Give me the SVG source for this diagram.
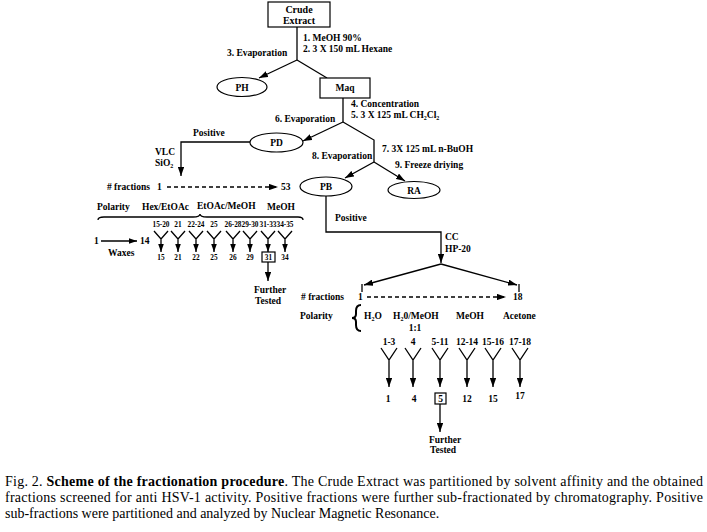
<svg xmlns="http://www.w3.org/2000/svg" xmlns:xlink="http://www.w3.org/1999/xlink" width="707" height="532" viewBox="0 0 707 532">
<style>
.t{font-family:"Liberation Serif","Times New Roman",serif;font-weight:bold;font-size:9.5px;fill:#000}
.s{font-size:7.3px}
.m{text-anchor:middle}
.c{font-family:"Liberation Serif","Times New Roman",serif;font-size:14px;fill:#000}
.b{font-weight:bold}
.ln{fill:none;stroke:#000;stroke-width:1.3}
.ds{stroke-dasharray:4 3}
.nd{fill:#fff;stroke:#000;stroke-width:1.2}
</style>
<defs>
<marker id="ar" viewBox="0 0 10 7" markerUnits="userSpaceOnUse" markerWidth="9" markerHeight="6.5" refX="10" refY="3.5" orient="auto"><path d="M0,0 L10,3.5 L0,7 z" fill="#000"/></marker>
<marker id="as" viewBox="0 0 10 7" markerUnits="userSpaceOnUse" markerWidth="8" markerHeight="6" refX="10" refY="3.5" orient="auto"><path d="M0,0 L10,3.5 L0,7 z" fill="#000"/></marker>
<path id="fL" class="ln" d="M-7,231 L0,239 L7,231 M0,239 L0,252" marker-end="url(#as)"/>
<path id="fR" class="ln" d="M-8,348 L0,360 L8,348 M0,360 L0,387" marker-end="url(#ar)"/>
</defs>
<rect width="707" height="532" fill="#fff"/>

<g id="connectors">
<path class="ln" d="M297,27 L297,60"/>
<path class="ln" d="M297,60 L259,78" marker-end="url(#ar)"/>
<path class="ln" d="M297,60 L327,78"/>
<path class="ln" d="M343,98 L343,122"/>
<path class="ln" d="M343,122 L303,141" marker-end="url(#ar)"/>
<path class="ln" d="M343,122 L374,140 L374,162"/>
<path class="ln" d="M374,162 L345,178" marker-end="url(#ar)"/>
<path class="ln" d="M374,162 L405,181" marker-end="url(#ar)"/>
<path class="ln" d="M250,142 L181,142 L181,176" marker-end="url(#ar)"/>
<path class="ln ds" d="M167,187 L278,187" marker-end="url(#ar)"/>
<path class="ln" d="M101,241 L137,241" marker-end="url(#as)"/>
<path class="ln" d="M98,220 Q98,217 104,217 L193,217 Q200,217 200,214 Q200,217 207,217 L298,217 Q303,217 303,220"/>
<use xlink:href="#fL" x="161"/>
<use xlink:href="#fL" x="178"/>
<use xlink:href="#fL" x="196"/>
<use xlink:href="#fL" x="214"/>
<use xlink:href="#fL" x="233"/>
<use xlink:href="#fL" x="250"/>
<use xlink:href="#fL" x="268"/>
<use xlink:href="#fL" x="285"/>
<path class="ln" d="M268,262 L268,281" marker-end="url(#ar)"/>
<path class="ln" d="M326,196 L326,232 L441,232 L441,263" marker-end="url(#ar)"/>
<path class="ln" d="M441,264 L364,285" marker-end="url(#ar)"/>
<path class="ln" d="M362,284 L362,292"/>
<path class="ln" d="M441,264 L517,285" marker-end="url(#ar)"/>
<path class="ln" d="M519,284 L519,292"/>
<path class="ln ds" d="M367,297 L506,297" marker-end="url(#ar)"/>
<path d="M361,305 Q356,305 356,311 L356,314 Q356,318 352,318 Q356,318 356,322 L356,325 Q356,331 361,331" fill="none" stroke="#000" stroke-width="2"/>
<use xlink:href="#fR" x="389"/>
<use xlink:href="#fR" x="413"/>
<use xlink:href="#fR" x="440"/>
<use xlink:href="#fR" x="467"/>
<use xlink:href="#fR" x="493"/>
<use xlink:href="#fR" x="520"/>
<path class="ln" d="M440,404 L440,432" marker-end="url(#ar)"/>
</g>

<g id="crude"><rect class="nd" x="268" y="2" width="62" height="25"/><text class="t m" x="299" y="12.5" style="font-size:10px">Crude</text><text class="t m" x="299" y="24" style="font-size:10px">Extract</text></g>
<g id="ph"><ellipse class="nd" cx="242" cy="87" rx="25" ry="9.5"/><text class="t m" x="242" y="90.5">PH</text></g>
<g id="maq"><rect class="nd" x="320" y="78" width="50" height="20"/><text class="t m" x="345" y="91">Maq</text></g>
<g id="pd"><ellipse class="nd" cx="276.5" cy="142.5" rx="26.5" ry="9.5"/><text class="t m" x="276.5" y="146">PD</text></g>
<g id="pb"><ellipse class="nd" cx="326" cy="186.5" rx="26" ry="9.5"/><text class="t m" x="326" y="190">PB</text></g>
<g id="ra"><ellipse class="nd" cx="414" cy="190" rx="26" ry="8.5"/><text class="t m" x="414" y="193.5">RA</text></g>
<g id="box31"><rect class="nd" x="262" y="252" width="13" height="10"/><text class="t s m" x="268.5" y="260">31</text></g>
<g id="box5"><rect class="nd" x="435" y="393" width="11" height="11"/><text class="t m" x="440.5" y="402">5</text></g>

<g id="labels">
<text class="t" x="303" y="41">1. MeOH 90%</text>
<text class="t" x="303" y="52">2. 3 X 150 mL Hexane</text>
<text class="t" x="227" y="56">3. Evaporation</text>
<text class="t" x="351" y="107">4. Concentration</text>
<text class="t" x="351" y="118">5. 3 X 125 mL CH<tspan font-size="6" dy="2">2</tspan><tspan dy="-2">Cl</tspan><tspan font-size="6" dy="2">2</tspan></text>
<text class="t" x="275" y="122">6. Evaporation</text>
<text class="t" x="382" y="152">7. 3X 125 mL n-BuOH</text>
<text class="t" x="312" y="159">8. Evaporation</text>
<text class="t" x="395" y="168">9. Freeze driying</text>
<text class="t" x="193" y="136">Positive</text>
<text class="t" x="155" y="155">VLC</text>
<text class="t" x="155" y="166">SiO<tspan font-size="6" dy="2">2</tspan></text>
<text class="t" x="150" y="190" text-anchor="end"># fractions</text>
<text class="t" x="157" y="190">1</text>
<text class="t" x="281" y="190">53</text>
<text class="t" x="97" y="210">Polarity</text>
<text class="t" x="142" y="210">Hex/EtOAc</text>
<text class="t" x="197" y="209">EtOAc/MeOH</text>
<text class="t" x="267" y="210">MeOH</text>
<text class="t s m" x="161" y="227">15-20</text>
<text class="t s m" x="178" y="227">21</text>
<text class="t s m" x="196" y="227">22-24</text>
<text class="t s m" x="214" y="227">25</text>
<text class="t s m" x="233" y="227">26-28</text>
<text class="t s m" x="250" y="227">29-30</text>
<text class="t s m" x="268" y="227">31-33</text>
<text class="t s m" x="285" y="227">34-35</text>
<text class="t" x="94" y="244">1</text>
<text class="t" x="140" y="244">14</text>
<text class="t" x="108" y="256">Waxes</text>
<text class="t s m" x="161" y="260">15</text>
<text class="t s m" x="178" y="260">21</text>
<text class="t s m" x="196" y="260">22</text>
<text class="t s m" x="214" y="260">25</text>
<text class="t s m" x="233" y="260">26</text>
<text class="t s m" x="250" y="260">29</text>
<text class="t s m" x="285" y="260">34</text>
<text class="t" x="254" y="293">Further</text>
<text class="t" x="255" y="304">Tested</text>
<text class="t" x="335" y="221">Positive</text>
<text class="t" x="445" y="240">CC</text>
<text class="t" x="445" y="252">HP-20</text>
<text class="t" x="301" y="300"># fractions</text>
<text class="t" x="358" y="300">1</text>
<text class="t" x="513" y="300">18</text>
<text class="t" x="300" y="319">Polarity</text>
<text class="t" x="364" y="319">H<tspan font-size="6" dy="2">2</tspan><tspan dy="-2">O</tspan></text>
<text class="t" x="393" y="319">H<tspan font-size="6" dy="2">2</tspan><tspan dy="-2">0/MeOH</tspan></text>
<text class="t m" x="415" y="331">1:1</text>
<text class="t" x="456" y="319">MeOH</text>
<text class="t" x="503" y="319">Acetone</text>
<text class="t m" x="389" y="345">1-3</text>
<text class="t m" x="413" y="345">4</text>
<text class="t m" x="440" y="345">5-11</text>
<text class="t m" x="467" y="345">12-14</text>
<text class="t m" x="493" y="345">15-16</text>
<text class="t m" x="520" y="345">17-18</text>
<text class="t m" x="388" y="402">1</text>
<text class="t m" x="414" y="402">4</text>
<text class="t m" x="467" y="402">12</text>
<text class="t m" x="493" y="402">15</text>
<text class="t m" x="520" y="399">17</text>
<text class="t" x="429" y="443">Further</text>
<text class="t" x="430" y="453">Tested</text>
</g>

<g id="caption">
<text class="c" x="5" y="486" textLength="698" lengthAdjust="spacing">Fig. 2. <tspan class="b">Scheme of the fractionation procedure</tspan>. The Crude Extract was partitioned by solvent affinity and the obtained</text>
<text class="c" x="5" y="502" textLength="698" lengthAdjust="spacing">fractions screened for anti HSV-1 activity. Positive fractions were further sub-fractionated by chromatography. Positive</text>
<text class="c" x="5" y="518">sub-fractions were partitioned and analyzed by Nuclear Magnetic Resonance.</text>
</g>
</svg>
